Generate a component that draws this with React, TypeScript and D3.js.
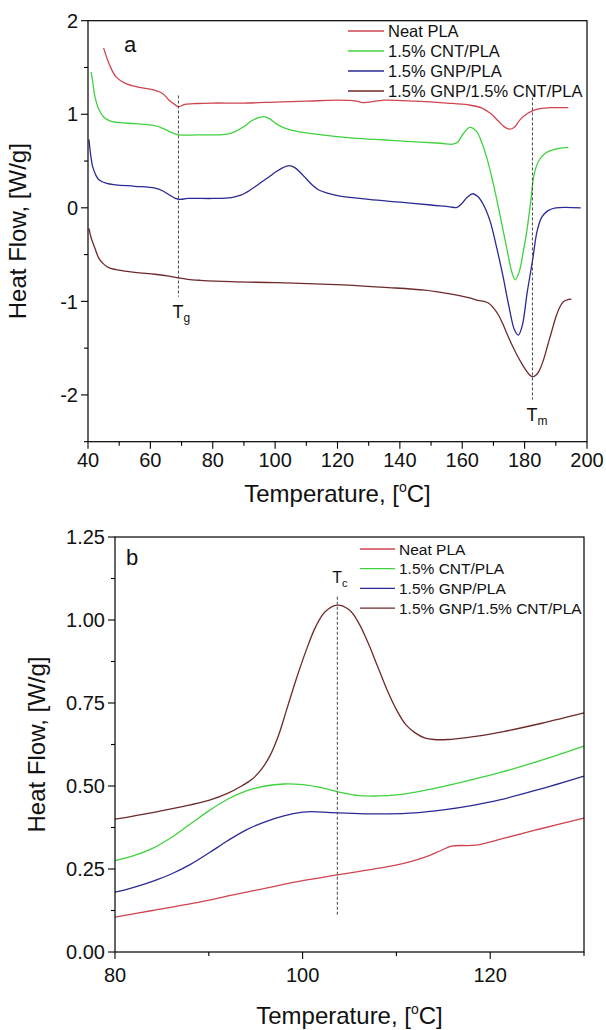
import React from "react";
import * as d3 from "d3";

// ---------- Data: panel a (heating scan) ----------
const seriesNames = ["Neat PLA", "1.5% CNT/PLA", "1.5% GNP/PLA", "1.5% GNP/1.5% CNT/PLA"];
const seriesColors = ["#cf4450", "#3fd23f", "#2a2a96", "#6e2a2a"];

const aNeat: [number, number][] = [
  [45, 1.71], [47, 1.52], [49, 1.4], [52, 1.33], [56, 1.29], [61, 1.26], [64, 1.22], [66, 1.15], [68, 1.1], [69, 1.08],
  [71, 1.105], [75, 1.115], [80, 1.12], [90, 1.12], [100, 1.13], [110, 1.14], [120, 1.15], [126, 1.14], [128, 1.125],
  [130, 1.13], [135, 1.15], [145, 1.14], [155, 1.12], [162, 1.1], [166, 1.07], [169, 1.01], [171.5, 0.93], [173.5, 0.865],
  [175.2, 0.84], [176.8, 0.865], [178.5, 0.94], [181, 1.01], [184, 1.055], [188, 1.07], [194, 1.07],
];
const aCnt: [number, number][] = [
  [41, 1.45], [41.5, 1.35], [42.2, 1.19], [43.5, 1.05], [45, 0.97], [47, 0.93], [50, 0.91], [55, 0.9], [61, 0.88], [64, 0.85],
  [66.5, 0.81], [69, 0.78], [75, 0.78], [82, 0.78], [85, 0.79], [87.5, 0.82], [90, 0.87], [92.5, 0.93], [94.8, 0.965],
  [96.5, 0.975], [98.3, 0.95], [100.3, 0.9], [102.5, 0.86], [106, 0.825], [110, 0.8], [115, 0.78], [125, 0.745],
  [135, 0.725], [145, 0.705], [153, 0.69], [157, 0.68], [158.5, 0.7], [160.5, 0.8], [162.5, 0.86], [164.5, 0.82],
  [166, 0.72], [168, 0.52], [170, 0.25], [172, -0.06], [174.5, -0.47], [176, -0.7], [177, -0.77], [178.3, -0.68],
  [179.5, -0.48], [180.7, -0.25], [182, 0.08], [183, 0.35], [184.5, 0.5], [186.5, 0.58], [189, 0.62], [192, 0.64],
  [194, 0.645],
];
const aGnp: [number, number][] = [
  [40.3, 0.73], [40.8, 0.58], [41.5, 0.44], [42.5, 0.35], [43.5, 0.3], [46, 0.26], [49, 0.245], [55, 0.23], [61.5, 0.21],
  [64, 0.18], [66, 0.14], [68, 0.1], [69.5, 0.09], [72, 0.1], [80, 0.1], [86, 0.11], [89, 0.135], [92, 0.19], [95, 0.26],
  [98, 0.33], [100.5, 0.39], [102.5, 0.43], [104.5, 0.45], [106.3, 0.43], [108, 0.38], [110, 0.31], [112, 0.24],
  [114, 0.19], [117, 0.155], [120, 0.13], [130, 0.09], [140, 0.06], [150, 0.03], [156, 0.01], [158.3, 0.005], [160, 0.05],
  [161.5, 0.11], [163.3, 0.15], [165, 0.12], [167, 0.02], [169, -0.15], [171, -0.42], [173, -0.72], [175, -1.06],
  [176.7, -1.3], [178, -1.36], [179.3, -1.25], [180.8, -0.91], [182.6, -0.55], [184, -0.25], [185.5, -0.1],
  [187.5, -0.03], [190, 0.0], [198, 0.0],
];
const aMix: [number, number][] = [
  [40.3, -0.22], [41, -0.32], [42.2, -0.43], [43.5, -0.54], [45.3, -0.61], [47, -0.645], [49, -0.66], [55, -0.69],
  [61.5, -0.71], [66, -0.73], [69, -0.75], [72, -0.765], [76, -0.775], [86, -0.79], [100, -0.8], [115, -0.815],
  [125, -0.83], [135, -0.85], [148, -0.88], [156, -0.92], [162, -0.96], [165, -0.99], [167, -1.0], [168.5, -1.02],
  [170, -1.07], [171.5, -1.14], [173, -1.24], [174.5, -1.36], [176, -1.47], [177.5, -1.57], [179, -1.66], [180.5, -1.74],
  [181.7, -1.79], [182.6, -1.805], [183.6, -1.79], [184.7, -1.74], [186, -1.63], [187.3, -1.48], [188.6, -1.33],
  [190, -1.17], [191.3, -1.06], [192.6, -1.0], [194, -0.98], [195, -0.975],
];

// ---------- Data: panel b (cooling scan) ----------
const bNeat: [number, number][] = [
  [80, 0.105], [84, 0.125], [88.4, 0.147], [92.6, 0.172], [96.9, 0.197], [100, 0.215], [103.7, 0.232], [106.5, 0.245],
  [109.1, 0.257], [111.5, 0.272], [113.2, 0.287], [114.7, 0.305], [115.9, 0.319], [118.5, 0.322], [121.4, 0.342],
  [125.5, 0.372], [130, 0.403],
];
const bCnt: [number, number][] = [
  [80, 0.275], [82, 0.29], [84, 0.312], [86, 0.345], [88, 0.385], [90, 0.425], [92, 0.46], [94, 0.485], [96, 0.5],
  [98, 0.506], [100, 0.504], [102, 0.495], [104, 0.481], [106, 0.471], [108, 0.47], [110, 0.473], [113, 0.487],
  [117, 0.512], [121, 0.54], [125.5, 0.578], [130, 0.62],
];
const bGnp: [number, number][] = [
  [80, 0.18], [82, 0.195], [84, 0.213], [86, 0.235], [88, 0.263], [90, 0.298], [92, 0.335], [94, 0.368], [96, 0.392],
  [98, 0.41], [100, 0.421], [101, 0.423], [103, 0.42], [106, 0.417], [109, 0.416], [112, 0.419], [115, 0.428],
  [118, 0.441], [121, 0.458], [125, 0.488], [130, 0.53],
];
const bMix: [number, number][] = [
  [80, 0.4], [84, 0.42], [88, 0.443], [90, 0.457], [92, 0.478], [93.5, 0.5], [94.6, 0.52], [95.6, 0.55], [96.5, 0.59],
  [97.4, 0.65], [98.3, 0.73], [99.3, 0.82], [100.4, 0.91], [101.4, 0.98], [102.4, 1.025], [103.7, 1.045], [105, 1.03],
  [106, 0.99], [107, 0.93], [108, 0.86], [109, 0.79], [110, 0.73], [111, 0.685], [112, 0.66], [113, 0.645], [114, 0.64],
  [115.5, 0.64], [117.3, 0.645], [121.4, 0.664], [125.5, 0.689], [130, 0.72],
];

// ticks
const aXTicks = [40, 60, 80, 100, 120, 140, 160, 180, 200];
const aXMinor = [50, 70, 90, 110, 130, 150, 170, 190];
const aYTicks = [-2, -1, 0, 1, 2];
const aYMinor = [-2.5, -1.5, -0.5, 0.5, 1.5];
const bXTicks = [80, 100, 120];
const bXMinor = [90, 110, 130];
const bYTicks = [0, 0.25, 0.5, 0.75, 1.0, 1.25];
const bYMinor = [0.125, 0.375, 0.625, 0.875, 1.125];

// markers
const aTg = 69;
const aTm = 182.5;
const bTc = 103.7;

const FONT = "'Liberation Sans', Arial, Helvetica, sans-serif";

type PanelProps = {
  series: [number, number][][];
  xDomain: [number, number];
  yDomain: [number, number];
  box: { l: number; r: number; t: number; b: number };
  xTicks: number[];
  xMinor: number[];
  yTicks: number[];
  yMinor: number[];
  yFmt: (v: number) => string;
  yTitleX: number;
  xTitleY: number;
  xLabelY: number;
  legend: { x1: number; x2: number; tx: number; y0: number; dy: number; fs: number };
  letter: { t: string; x: number; y: number };
  children?: (x: d3.ScaleLinear<number, number>, y: d3.ScaleLinear<number, number>) => React.ReactNode;
};

function Panel(p: PanelProps) {
  const x = d3.scaleLinear().domain(p.xDomain).range([p.box.l, p.box.r]);
  const y = d3.scaleLinear().domain(p.yDomain).range([p.box.b, p.box.t]);
  const line = d3
    .line<[number, number]>()
    .x((d) => x(d[0]))
    .y((d) => y(d[1]))
    .curve(d3.curveCatmullRom.alpha(0.5));
  const { l, r, t, b } = p.box;
  return (
    <g fontFamily={FONT}>
      {p.series.map((s, i) => (
        <path key={i} d={line(s) || ""} fill="none" stroke={seriesColors[i]} strokeWidth={1.3} />
      ))}
      {p.children && p.children(x, y)}
      <rect x={l} y={t} width={r - l} height={b - t} fill="none" stroke="#000" strokeWidth={1.2} />
      {p.xTicks.map((v) => (
        <g key={"xt" + v}>
          <line x1={x(v)} x2={x(v)} y1={b} y2={b + 7} stroke="#000" strokeWidth={1.1} />
          <text x={x(v)} y={p.xLabelY} textAnchor="middle" fontSize={20} fill="#111">
            {v}
          </text>
        </g>
      ))}
      {p.xMinor.map((v) => (
        <line key={"xm" + v} x1={x(v)} x2={x(v)} y1={b} y2={b + 4} stroke="#000" strokeWidth={1.1} />
      ))}
      {p.yTicks.map((v) => (
        <g key={"yt" + v}>
          <line x1={l - 7} x2={l} y1={y(v)} y2={y(v)} stroke="#000" strokeWidth={1.1} />
          <text x={l - 10} y={y(v)} dy="0.36em" textAnchor="end" fontSize={20} fill="#111">
            {p.yFmt(v)}
          </text>
        </g>
      ))}
      {p.yMinor.map((v) => (
        <line key={"ym" + v} x1={l - 4} x2={l} y1={y(v)} y2={y(v)} stroke="#000" strokeWidth={1.1} />
      ))}
      <text
        transform={`translate(${p.yTitleX},${(t + b) / 2}) rotate(-90)`}
        textAnchor="middle"
        fontSize={24}
        fill="#111"
      >
        Heat Flow, [W/g]
      </text>
      <text x={(l + r) / 2} y={p.xTitleY} textAnchor="middle" fontSize={24} fill="#111">
        Temperature, [<tspan fontSize={14} dy={-10}>o</tspan>
        <tspan dy={10}>C]</tspan>
      </text>
      {seriesNames.map((n, i) => {
        const yy = p.legend.y0 + i * p.legend.dy;
        return (
          <g key={n}>
            <line x1={p.legend.x1} x2={p.legend.x2} y1={yy} y2={yy} stroke={seriesColors[i]} strokeWidth={1.3} />
            <text x={p.legend.tx} y={yy} dy="0.36em" fontSize={p.legend.fs} fill="#111">
              {n}
            </text>
          </g>
        );
      })}
      <text x={p.letter.x} y={p.letter.y} dy="0.36em" textAnchor="middle" fontSize={22} fill="#111">
        {p.letter.t}
      </text>
    </g>
  );
}

export default function App() {
  return (
    <svg
      width={606}
      height={1030}
      style={{ position: "absolute", left: 0, top: 0, background: "#fff" }}
      xmlns="http://www.w3.org/2000/svg"
    >
      <rect width={606} height={1030} fill="#fff" />
      <Panel
        series={[aNeat, aCnt, aGnp, aMix]}
        xDomain={[40, 200]}
        yDomain={[-2.5, 2]}
        box={{ l: 88, r: 587, t: 20.7, b: 441.7 }}
        xTicks={aXTicks}
        xMinor={aXMinor}
        yTicks={aYTicks}
        yMinor={aYMinor}
        yFmt={(v) => String(v)}
        yTitleX={26}
        xTitleY={502}
        xLabelY={467}
        legend={{ x1: 348, x2: 384, tx: 388, y0: 31, dy: 20, fs: 16.5 }}
        letter={{ t: "a", x: 130, y: 44 }}
      >
        {(x, y) => (
          <g>
            <line x1={x(aTg)} x2={x(aTg)} y1={y(1.2)} y2={y(-0.95)} stroke="#444" strokeWidth={1} strokeDasharray="3,2" />
            <line x1={x(aTm)} x2={x(aTm)} y1={y(1.18)} y2={y(-2.05)} stroke="#444" strokeWidth={1} strokeDasharray="3,2" />
            <text x={x(aTg) - 6} y={y(-1.04)} fontSize={18} fill="#111" dominantBaseline="hanging">
              T<tspan fontSize={12} dy={8}>g</tspan>
            </text>
            <text x={x(aTm) - 6} y={y(-2.14)} fontSize={18} fill="#111" dominantBaseline="hanging">
              T<tspan fontSize={12} dy={8}>m</tspan>
            </text>
          </g>
        )}
      </Panel>
      <Panel
        series={[bNeat, bCnt, bGnp, bMix]}
        xDomain={[80, 130]}
        yDomain={[0, 1.25]}
        box={{ l: 115, r: 584, t: 537, b: 952 }}
        xTicks={bXTicks}
        xMinor={bXMinor}
        yTicks={bYTicks}
        yMinor={bYMinor}
        yFmt={(v) => v.toFixed(2)}
        yTitleX={45}
        xTitleY={1024}
        xLabelY={982}
        legend={{ x1: 360, x2: 395, tx: 399, y0: 549, dy: 19.7, fs: 15.5 }}
        letter={{ t: "b", x: 132, y: 557 }}
      >
        {(x, y) => (
          <g>
            <line x1={x(bTc)} x2={x(bTc)} y1={y(1.07)} y2={y(0.11)} stroke="#444" strokeWidth={1} strokeDasharray="3,2" />
            <text x={x(bTc) - 5} y={y(1.145)} fontSize={16} fill="#111" dominantBaseline="hanging">
              T<tspan fontSize={11} dy={7}>c</tspan>
            </text>
          </g>
        )}
      </Panel>
    </svg>
  );
}
